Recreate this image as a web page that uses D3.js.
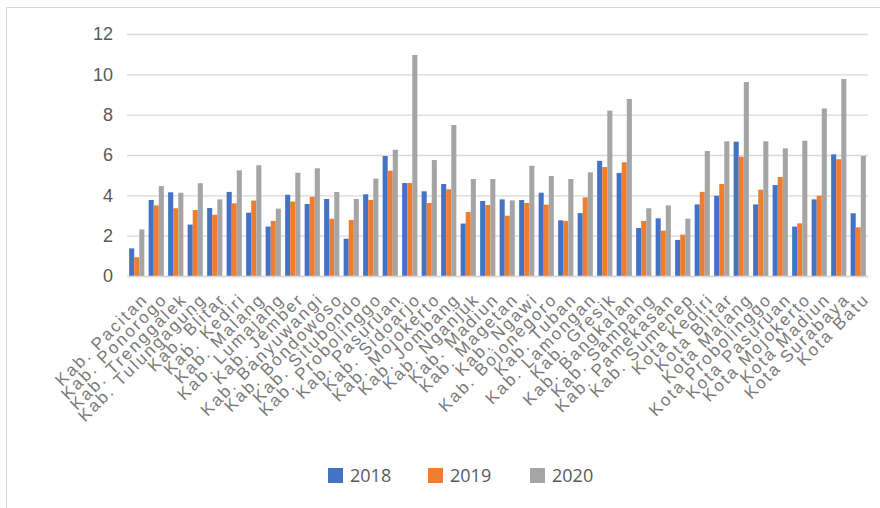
<html>
<head>
<meta charset="UTF-8">
<title>Chart</title>
<script src="https://cdn.jsdelivr.net/npm/d3@7"></script>
<style>
  body { margin:0; background:#fff; }
  svg { display:block; font-family:"Open Sans", "Liberation Sans", sans-serif; }
</style>
</head>
<body>
<svg id="chart" width="880" height="508"></svg>
<script>
// wilayah (kabupaten / kota)
var categories = ["Kab. Pacitan","Kab. Ponorogo","Kab. Trenggalek","Kab. Tulungagung","Kab. Blitar",
  "Kab. Kediri","Kab. Malang","Kab. Lumajang","Kab. Jember","Kab. Banyuwangi","Kab. Bondowoso",
  "Kab. Situbondo","Kab. Probolinggo","Kab. Pasuruan","Kab. Sidoarjo","Kab. Mojokerto","Kab. Jombang",
  "Kab. Nganjuk","Kab. Madiun","Kab. Magetan","Kab. Ngawi","Kab. Bojonegoro","Kab. Tuban",
  "Kab. Lamongan","Kab. Gresik","Kab. Bangkalan","Kab. Sampang","Kab. Pamekasan","Kab. Sumenep",
  "Kota Kediri","Kota Blitar","Kota Malang","Kota Probolinggo","Kota Pasuruan","Kota Mojokerto",
  "Kota Madiun","Kota Surabaya","Kota Batu"];
var years = ["2018","2019","2020"];
var v2018 = [1.37,3.77,4.15,2.55,3.37,4.17,3.14,2.45,4.03,3.57,3.82,1.85,4.05,5.95,4.61,4.2,4.56,
  2.6,3.72,3.8,3.77,4.13,2.76,3.12,5.71,5.11,2.38,2.86,1.79,3.55,3.98,6.66,3.55,4.51,2.45,3.8,6.03,3.11];
var v2019 = [0.93,3.5,3.36,3.27,3.04,3.6,3.74,2.73,3.69,3.93,2.84,2.78,3.77,5.22,4.61,3.62,4.3,
  3.17,3.52,2.99,3.62,3.54,2.73,3.9,5.4,5.64,2.73,2.25,2.05,4.17,4.56,5.92,4.28,4.91,2.61,3.98,5.79,2.41];
var v2020 = [2.31,4.46,4.13,4.6,3.8,5.24,5.49,3.34,5.12,5.34,4.17,3.82,4.83,6.26,10.96,5.75,7.49,
  4.81,4.81,3.75,5.47,4.96,4.81,5.14,8.2,8.78,3.36,3.5,2.84,6.2,6.68,9.62,6.68,6.33,6.71,8.31,9.77,5.95];
var series = [v2018, v2019, v2020];
var colors = ["#4472C4","#ED7D31","#A5A5A5"];
var yTicks = [0,2,4,6,8,10,12];

var svg = d3.select("#chart");

// bingkai
svg.append("path").attr("d","M6.5,508 L6.5,7.5 L880,7.5")
  .attr("fill","none").attr("stroke","#d9d9d9").attr("stroke-width",1);

var x0 = d3.scaleBand().domain(categories).range([127,868]).paddingInner(0.22).paddingOuter(0.11);
var x1 = d3.scaleBand().domain(years).range([0,x0.bandwidth()]);
var y = d3.scaleLinear().domain([0,12]).range([276,34]);

// garis grid + label sumbu y
var yAxis = d3.axisLeft(y).tickValues(yTicks).tickSize(-(868-127)).tickPadding(14);
var gy = svg.append("g").attr("transform","translate(127,0)").call(yAxis);
gy.select(".domain").remove();
gy.selectAll(".tick line").attr("stroke","#d9d9d9").attr("stroke-width",1.3);
gy.selectAll(".tick text").attr("fill","#595959").style("font-size","18px");

// batang
var groups = svg.append("g").selectAll("g").data(categories).enter().append("g")
  .attr("transform", function(d){ return "translate(" + x0(d) + ",0)"; });
groups.selectAll("rect").data(function(d,i){ return series.map(function(s,k){ return {k:k, v:s[i]}; }); })
  .enter().append("rect")
  .attr("x", function(d){ return x1(years[d.k]); })
  .attr("width", x1.bandwidth())
  .attr("y", function(d){ return y(d.v); })
  .attr("height", function(d){ return y(0) - y(d.v); })
  .attr("fill", function(d){ return colors[d.k]; });

// label kategori miring
var xAxis = d3.axisBottom(x0).tickSize(0).tickPadding(0);
var gx = svg.append("g").attr("transform","translate(0,276)").call(xAxis);
gx.select(".domain").attr("stroke","#d9d9d9").attr("stroke-width",1.3);
gx.selectAll(".tick text")
  .attr("fill","#7a7a7a").style("font-size","17px").style("letter-spacing","2.2px")
  .attr("text-anchor","end")
  .attr("dy","0.35em")
  .attr("transform","translate(8,20) rotate(-45)");

// legenda
var legX = [328, 428, 530];
var leg = svg.append("g").selectAll("g").data(years).enter().append("g")
  .attr("transform", function(d,i){ return "translate(" + legX[i] + ",468)"; });
leg.append("rect").attr("width",15).attr("height",15)
  .attr("fill", function(d,i){ return colors[i]; });
leg.append("text").attr("x",22).attr("y",7.5).attr("dy","0.35em")
  .attr("fill","#595959").style("font-size","18px").text(function(d){ return d; });
</script>
</body>
</html>
